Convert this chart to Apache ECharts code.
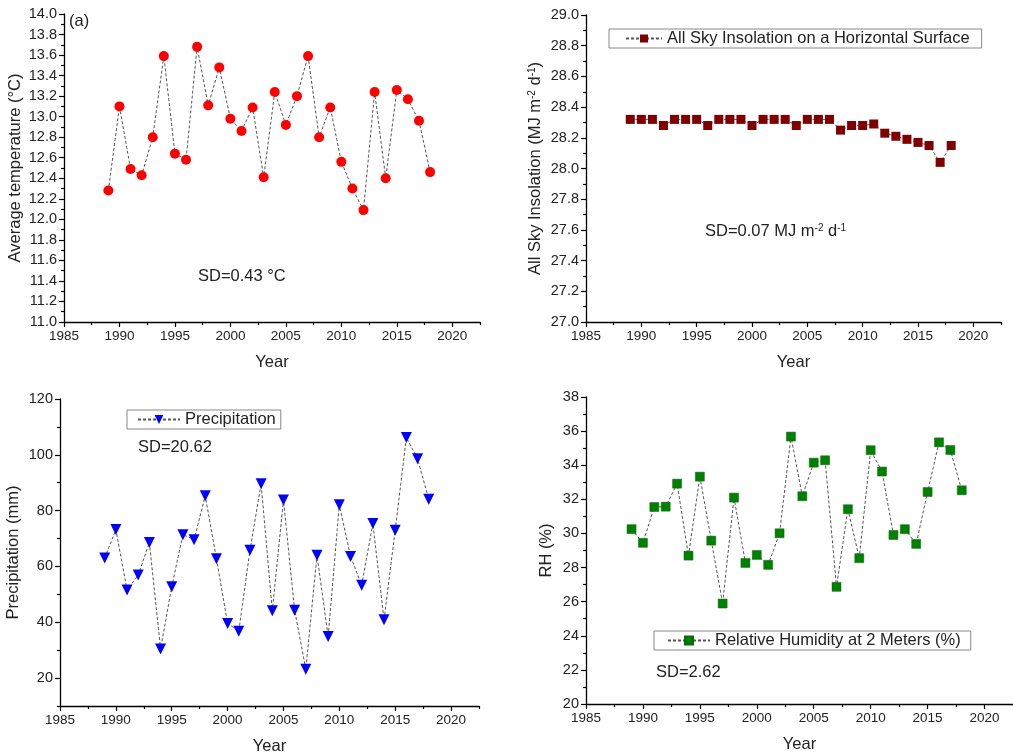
<!DOCTYPE html>
<html>
<head>
<meta charset="utf-8">
<script src="https://cdn.jsdelivr.net/npm/echarts@6/dist/echarts.min.js"></script>
<style>html,body{margin:0;padding:0;background:#fff}#c{width:1013px;height:756px}</style>
</head>
<body>
<div id="c"></div>
<script>
const years = [1989,1990,1991,1992,1993,1994,1995,1996,1997,1998,1999,2000,2001,2002,2003,2004,2005,2006,2007,2008,2009,2010,2011,2012,2013,2014,2015,2016,2017,2018];
const tempVals = [12.28,13.10,12.49,12.43,12.80,13.59,12.64,12.58,13.68,13.11,13.48,12.98,12.86,13.09,12.41,13.24,12.92,13.20,13.59,12.80,13.09,12.56,12.30,12.09,13.24,12.40,13.26,13.17,12.96,12.46];
const insolVals = [28.32,28.32,28.32,28.28,28.32,28.32,28.32,28.28,28.32,28.32,28.32,28.28,28.32,28.32,28.32,28.28,28.32,28.32,28.32,28.25,28.28,28.28,28.29,28.23,28.21,28.19,28.17,28.15,28.04,28.15];
const precipVals = [63.0,73.2,51.6,56.9,68.6,30.4,52.7,71.4,69.6,85.3,62.8,39.6,36.8,65.8,89.6,44.1,83.8,44.3,23.2,64.0,34.9,82.1,63.6,53.3,75.4,40.9,73.0,106.2,98.6,84.1];
const rhVals = [30.25,29.45,31.55,31.57,32.92,28.70,33.33,29.58,25.89,32.10,28.27,28.74,28.16,30.01,35.68,32.18,34.15,34.29,26.87,31.42,28.55,34.88,33.63,29.91,30.25,29.39,32.43,35.34,34.89,32.53];

const xMajorTicks = [1985,1990,1995,2000,2005,2010,2015,2020];
const xMinorTicks = [1987.5,1992.5,1997.5,2002.5,2007.5,2012.5,2017.5,2022.5];
const precipMajorTicks = [20,40,60,80,100,120];
const precipMinorTicks = [10,30,50,70,90,110];

const seriesNames = ['Average temperature','All Sky Insolation on a Horizontal Surface','Precipitation','Relative Humidity at 2 Meters (%)'];

const FONT = "'Liberation Sans', Arial, sans-serif";
const pair = vals => years.map((y, i) => [y, vals[i]]);

const grids = [
  {left: 64, top: 14, width: 416, height: 308},
  {left: 586, top: 15, width: 415, height: 307},
  {left: 60, top: 399, width: 419, height: 307},
  {left: 586, top: 397, width: 428, height: 307}
];

const axisLine = {show: true, onZero: false, lineStyle: {color: '#000', width: 1.3}};
const xLbl = {color: '#222', fontSize: 13.5, fontFamily: FONT};
const yLbl = {color: '#222', fontSize: 14.5, fontFamily: FONT};

const xAxes = [];
const yAxes = [];
for (let g = 0; g < 4; g++) {
  xAxes.push({
    type: 'value', gridIndex: g, position: 'bottom', min: 1985, max: 2022.5, interval: 5,
    name: 'Year', nameLocation: 'middle', nameGap: 32,
    nameTextStyle: {fontSize: 16.5, color: '#222', fontFamily: FONT},
    axisLine: axisLine,
    axisTick: {show: true, inside: false, length: 5, customValues: xMajorTicks, lineStyle: {color: '#000', width: 1.2}},
    axisLabel: Object.assign({margin: 7, customValues: xMajorTicks, formatter: v => String(v)}, xLbl),
    splitLine: {show: false}
  });
  xAxes.push({
    type: 'value', gridIndex: g, position: 'bottom', min: 1985, max: 2022.5, interval: 5,
    axisLine: {show: false, onZero: false},
    axisTick: {show: true, length: 3, customValues: xMinorTicks, lineStyle: {color: '#000', width: 1.2}},
    axisLabel: {show: false},
    splitLine: {show: false}
  });
}

function yAxisBase(g, min, max, interval, name, gap, fmt) {
  return {
    type: 'value', gridIndex: g, position: 'left', min: min, max: max, interval: interval,
    name: name, nameLocation: 'middle', nameGap: gap,
    nameTextStyle: {fontSize: 16.5, color: '#222', fontFamily: FONT,
      rich: {n: {fontSize: 16.5, color: '#222', fontFamily: FONT}, s: {fontSize: 10, color: '#222', fontFamily: FONT, verticalAlign: 'top'}}},
    axisLine: axisLine,
    axisTick: {show: true, length: 5, lineStyle: {color: '#000', width: 1.2}},
    minorTick: {show: true, splitNumber: 2, length: 3, lineStyle: {color: '#000', width: 1.2}},
    axisLabel: Object.assign({margin: 7, formatter: fmt}, yLbl),
    splitLine: {show: false}, minorSplitLine: {show: false}
  };
}
yAxes.push(yAxisBase(0, 11, 14, 0.2, 'Average temperature (°C)', 40, v => v.toFixed(1)));
yAxes.push(yAxisBase(1, 27, 29, 0.2, '{n|All Sky Insolation (MJ m}{s|-2}{n| d}{s|-1}{n|)}', 42, v => v.toFixed(1)));
const py = yAxisBase(2, 10, 120, 10, 'Precipitation (mm)', 38, v => String(v));
py.minorTick = {show: false};
py.axisTick.customValues = precipMajorTicks;
py.axisLabel.customValues = precipMajorTicks;
yAxes.push(py);
yAxes.push(yAxisBase(3, 20, 38, 2, 'RH (%)', 31, v => String(v)));
yAxes.push({
  type: 'value', gridIndex: 2, position: 'left', min: 10, max: 120, interval: 10,
  axisLine: {show: false, onZero: false},
  axisTick: {show: true, length: 3, customValues: precipMinorTicks, lineStyle: {color: '#000', width: 1.2}},
  axisLabel: {show: false}, splitLine: {show: false}
});

const lineStyle = {color: '#555', width: 1, type: [3, 2]};
const series = [
  {name: seriesNames[0], type: 'line', xAxisIndex: 0, yAxisIndex: 0, data: pair(tempVals),
   symbol: 'circle', symbolSize: 10, itemStyle: {color: '#ff0000'}, lineStyle: lineStyle},
  {name: seriesNames[1], type: 'line', xAxisIndex: 2, yAxisIndex: 1, data: pair(insolVals),
   symbol: 'rect', symbolSize: 9, itemStyle: {color: '#800000'}, lineStyle: lineStyle},
  {name: seriesNames[2], type: 'line', xAxisIndex: 4, yAxisIndex: 2, data: pair(precipVals),
   symbol: 'triangle', symbolRotate: 180, symbolSize: 11, itemStyle: {color: '#0000ff'}, lineStyle: lineStyle},
  {name: seriesNames[3], type: 'line', xAxisIndex: 6, yAxisIndex: 3, data: pair(rhVals),
   symbol: 'rect', symbolSize: 9, itemStyle: {color: '#008000', borderColor: '#0a6a0a', borderWidth: 0.5}, lineStyle: lineStyle}
];
series.forEach(s => { s.animation = false; s.z = 3; });

const legendText = {fontSize: 16.5, color: '#222', fontFamily: FONT};
const legends = [
  {data: [seriesNames[1]], left: 609, top: 29, padding: [1, 12, 1, 16], itemWidth: 36, itemHeight: 10,
   borderColor: '#888', borderWidth: 1, textStyle: legendText},
  {data: [seriesNames[2]], left: 127, top: 410, padding: [1, 5, 1, 10], itemWidth: 42, itemHeight: 11,
   borderColor: '#888', borderWidth: 1, textStyle: legendText},
  {data: [seriesNames[3]], left: 654, top: 631, padding: [1, 10, 1, 13], itemWidth: 42, itemHeight: 10,
   borderColor: '#888', borderWidth: 1, textStyle: legendText}
];

const txt = (left, top, text, rich) => ({
  type: 'text', left: left, top: top,
  style: {text: text, fill: '#222', font: '16.5px ' + FONT, rich: rich}
});
const supRich = {n: {fontSize: 16.5, fill: '#222', fontFamily: FONT}, s: {fontSize: 10, fill: '#222', fontFamily: FONT, verticalAlign: 'top'}};

const option = {
  backgroundColor: '#fff',
  animation: false,
  grid: grids,
  xAxis: xAxes,
  yAxis: yAxes,
  legend: legends,
  series: series,
  graphic: [
    txt(69, 13, '(a)'),
    txt(198, 268, 'SD=0.43 °C'),
    txt(705, 223, '{n|SD=0.07 MJ m}{s|-2}{n| d}{s|-1}', supRich),
    txt(138, 439, 'SD=20.62'),
    txt(656, 664, 'SD=2.62')
  ]
};
const chart = echarts.init(document.getElementById('c'), null, {renderer: 'canvas'});
chart.setOption(option);
</script>
</body>
</html>
